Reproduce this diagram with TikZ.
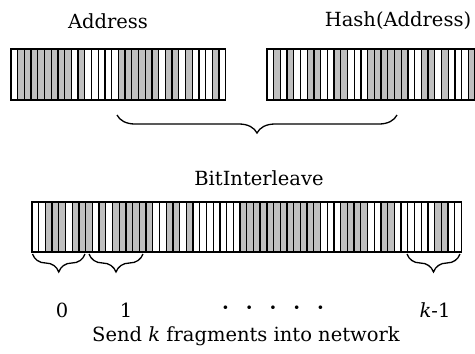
\documentclass[tikz,border=0pt]{standalone}
\usepackage{fontspec}
\setmainfont{DejaVu Serif}
\usetikzlibrary{decorations.pathreplacing}

\tikzset{
  bar/.style={draw, line width=1.5pt, inner sep=0pt, minimum height=51pt},
  bitgray/.style={fill=black!25},
  bitline/.style={line width=1.3pt},
  grpbrace/.style={decorate, decoration={brace, mirror, amplitude=18pt},
    line width=1.3pt},
  every node/.append style={font=\fontsize{19.5}{22}\selectfont}
}
\def\bw{6.71}

\begin{document}
\begin{tikzpicture}[x=1pt, y=-1pt]
  \useasboundingbox (0,0) rectangle (475,354);

  % the two inputs
  \node (lAddr) at (108,21) {Address};
  \node (lHash) at (398,21) {Hash(Address)};

  \foreach \i in {2,3,4,5,6,7,8,9,11,17,18,19,20,21,22,24,25,27,31}
    \fill[bitgray] ({11+(\i-1)*\bw},49) rectangle ++(\bw,51);
  \foreach \i in {1,...,31}
    \draw[bitline] ({11+\i*\bw},49) -- ++(0,51);
  \node[bar, minimum width=32*\bw] (addr) at ({11+16*\bw},74.5) {};

  \begin{scope}
    \clip (0,0) rectangle (475,354);
    \foreach \i in {2,4,7,8,11,12,16,17,18,19,20,21,24,25,27,31}
      \fill[bitgray] ({267+(\i-1)*\bw},49) rectangle ++(\bw,51);
    \foreach \i in {1,...,31}
      \draw[bitline] ({267+\i*\bw},49) -- ++(0,51);
    \node[bar, minimum width=32*\bw] (hash) at ({267+16*\bw},74.5) {};
  \end{scope}

  % interleave
  \coordinate (bL) at (117,115);
  \coordinate (bR) at (397,115);
  \draw[grpbrace] (bL) -- (bR);
  \node (lMix) at (259,178) {BitInterleave};

  \foreach \i in {3,4,5,7,8,9,11,13,14,15,16,17,18,21,22,24,32,33,34,35,36,37,38,39,40,41,42,43,47,48,49,50,53,54,61,62}
    \fill[bitgray] ({32+(\i-1)*\bw},202) rectangle ++(\bw,50);
  \foreach \i in {1,...,63}
    \draw[bitline] ({32+\i*\bw},202) -- ++(0,50);
  \node[bar, minimum width=64*\bw, minimum height=50pt] (mix) at ({32+32*\bw},227) {};

  % fragments
  \coordinate (f0a) at (32.5,254);
  \coordinate (f0b) at (85,254);
  \coordinate (f1a) at (89,254);
  \coordinate (f1b) at (143,254);
  \coordinate (fka) at (407,254);
  \coordinate (fkb) at (460,254);
  \draw[grpbrace] (f0a) -- (f0b);
  \draw[grpbrace] (f1a) -- (f1b);
  \draw[grpbrace] (fka) -- (fkb);

  \node (n0) at (62,310) {0};
  \node (n1) at (126,310) {1};
  \node (ndots) at (273,310) {\textbf{·}\hspace{17pt}\textbf{·}\hspace{17pt}\textbf{·}\hspace{17pt}\textbf{·}\hspace{17pt}\textbf{·}};
  \node (nk) at (435,310) {\textit{k}-1};
  \node (lSend) at (246,336) {Send \textit{k} fragments into network};
\end{tikzpicture}
\end{document}
